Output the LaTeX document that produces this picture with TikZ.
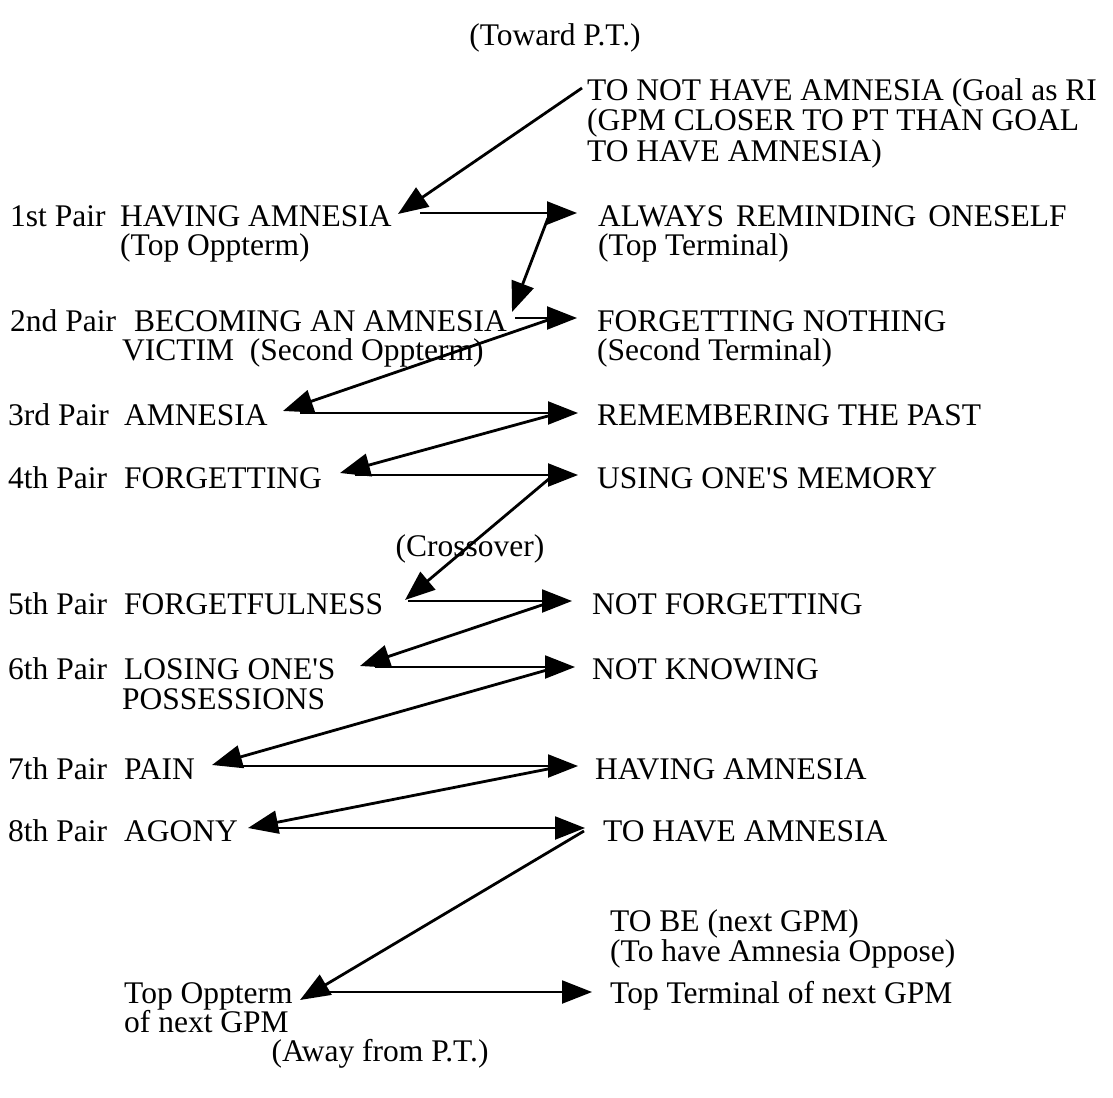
\documentclass[tikz,border=0pt]{standalone}
\usepackage{fontspec}
\setmainfont{Liberation Serif}
\usetikzlibrary{arrows.meta}
\begin{document}
\begin{tikzpicture}[x=1pt,y=-1pt,
  txt/.style={anchor=base west,inner sep=0pt,font=\fontsize{31.5}{29}\selectfont},
  ctxt/.style={anchor=base,inner sep=0pt,font=\fontsize{31.5}{29}\selectfont},
  sarrow/.style={line width=2.8pt,-{Triangle[length=30pt,width=23pt]}},
  harrow/.style={line width=2.2pt,-{Triangle[length=30pt,width=23pt]}}]
\useasboundingbox (0,0) rectangle (1113,1097);
% texts
\node[ctxt] (toward) at (555,46) {(Toward P.T.)};
\node[txt] (g1) at (587,101) {TO NOT HAVE AMNESIA (Goal as RI};
\node[txt] (g2) at (587,131) {(GPM CLOSER TO PT THAN GOAL};
\node[txt] (g3) at (587,161) {TO HAVE AMNESIA)};
% left column
\node[txt] (p1) at (10,226) {1st Pair};
\node[txt] (l1a) at (120,226) {HAVING AMNESIA};
\node[txt] (l1b) at (120,255) {(Top Oppterm)};
\node[txt] (p2) at (10,331) {2nd Pair};
\node[txt] (l2a) at (134,331) {BECOMING AN AMNESIA};
\node[txt] (l2b) at (122,360) {VICTIM\ \ (Second Oppterm)};
\node[txt] (p3) at (8,425) {3rd Pair};
\node[txt] (l3) at (124,425) {AMNESIA};
\node[txt] (p4) at (8,488) {4th Pair};
\node[txt] (l4) at (124,488) {FORGETTING};
\node[txt] (p5) at (8,614) {5th Pair};
\node[txt] (l5) at (124,614) {FORGETFULNESS};
\node[txt] (p6) at (8,679) {6th Pair};
\node[txt] (l6a) at (124,679) {LOSING ONE\textquotesingle S};
\node[txt] (l6b) at (122,709) {POSSESSIONS};
\node[txt] (p7) at (8,779) {7th Pair};
\node[txt] (l7) at (124,779) {PAIN};
\node[txt] (p8) at (8,841) {8th Pair};
\node[txt] (l8) at (124,841) {AGONY};
\node[txt] (l9a) at (124,1003) {Top Oppterm};
\node[txt] (l9b) at (124,1032) {of next GPM};
\node[ctxt] (away) at (380,1061) {(Away from P.T.)};
\node[ctxt] (cross) at (470,556) {(Crossover)};
% right column
\node[txt] (r1a) at (598,226) {ALWAYS\hspace{12pt}REMINDING\hspace{12pt}ONESELF};
\node[txt] (r1b) at (598,255) {(Top Terminal)};
\node[txt] (r2a) at (597,331) {FORGETTING NOTHING};
\node[txt] (r2b) at (597,360) {(Second Terminal)};
\node[txt] (r3) at (597,425) {REMEMBERING THE PAST};
\node[txt] (r4) at (597,488) {USING ONE\textquotesingle S MEMORY};
\node[txt] (r5) at (592,614) {NOT FORGETTING};
\node[txt] (r6) at (592,679) {NOT KNOWING};
\node[txt] (r7) at (595,779) {HAVING AMNESIA};
\node[txt] (r8) at (603,841) {TO HAVE AMNESIA};
\node[txt] (n1) at (610,931) {TO BE (next GPM)};
\node[txt] (n2) at (610,961) {(To have Amnesia Oppose)};
\node[txt] (r9) at (610,1003) {Top Terminal of next GPM};
% coordinates
\coordinate (s0) at (582,88);
\coordinate (o1) at (398,214); \coordinate (h1) at (420,213); \coordinate (m1) at (577,213); \coordinate (s1) at (548,218);
\coordinate (o2) at (512,312); \coordinate (h2) at (515,318); \coordinate (m2) at (577,318); \coordinate (s2) at (548,320);
\coordinate (o3) at (283,411); \coordinate (h3) at (300,413); \coordinate (m3) at (578,413); \coordinate (s3) at (548,416);
\coordinate (o4) at (340,473); \coordinate (h4) at (355,475); \coordinate (m4) at (578,475); \coordinate (s4) at (550,478);
\coordinate (o5) at (405,600); \coordinate (h5) at (408,601); \coordinate (m5) at (572,601); \coordinate (s5) at (545,604);
\coordinate (o6) at (360,666); \coordinate (h6) at (375,667); \coordinate (m6) at (575,667); \coordinate (s6) at (547,670);
\coordinate (o7) at (212,765); \coordinate (h7) at (230,766); \coordinate (m7) at (578,766); \coordinate (s7) at (548,769);
\coordinate (o8) at (248,828); \coordinate (h8) at (262,828); \coordinate (m8) at (585,828); \coordinate (s8) at (584,831);
\coordinate (o9) at (300,1000); \coordinate (h9) at (325,992); \coordinate (m9) at (592,992);
% connectors
\draw[sarrow] (s0) -- (o1);
\draw[harrow] (h1) -- (m1);
\draw[sarrow] (s1) -- (o2);
\draw[harrow] (h2) -- (m2);
\draw[sarrow] (s2) -- (o3);
\draw[harrow] (h3) -- (m3);
\draw[sarrow] (s3) -- (o4);
\draw[harrow] (h4) -- (m4);
\draw[sarrow] (s4) -- (o5);
\draw[harrow] (h5) -- (m5);
\draw[sarrow] (s5) -- (o6);
\draw[harrow] (h6) -- (m6);
\draw[sarrow] (s6) -- (o7);
\draw[harrow] (h7) -- (m7);
\draw[sarrow] (s7) -- (o8);
\draw[harrow] (h8) -- (m8);
\draw[sarrow] (s8) -- (o9);
\draw[harrow] (h9) -- (m9);
\end{tikzpicture}
\end{document}
